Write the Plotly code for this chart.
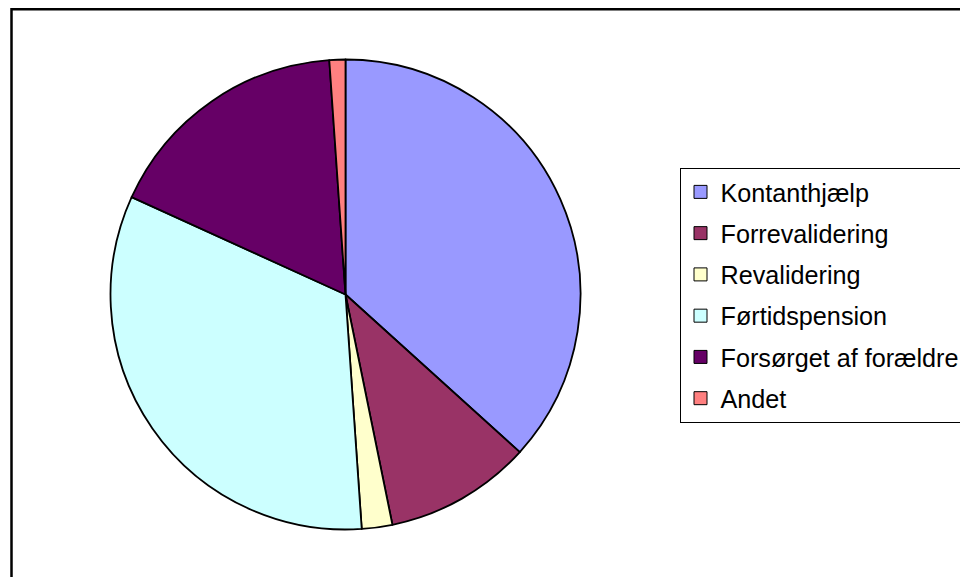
import plotly.graph_objects as go

# Share of people by source of support (per cent)
labels = ["Kontanthjælp", "Forrevalidering", "Revalidering",
          "Førtidspension", "Forsørget af forældre", "Andet"]
shares = [36.7, 10.1, 2.1, 32.9, 17.1, 1.1]
colors = ["#9999FF", "#993366", "#FFFFCC", "#CCFFFF", "#660066", "#FF8080"]

W, H = 960, 577
FONT = "Liberation Sans, Arial, sans-serif"
FS = 25.2

fig = go.Figure()

fig.add_trace(go.Pie(
    labels=labels,
    values=shares,
    sort=False,
    direction="clockwise",
    rotation=0,
    textinfo="none",
    showlegend=False,
    marker=dict(colors=colors, line=dict(color="black", width=1.8)),
    domain=dict(x=[110.5 / W, 580.5 / W],
                y=[1 - 529.5 / H, 1 - 59.5 / H]),
))

# Legend entries: one square swatch per category, each in its own group
for lab, col in zip(labels, colors):
    fig.add_trace(go.Scatter(
        x=[None], y=[None], mode="markers", name=lab,
        legendgroup=lab,
        marker=dict(symbol="square", size=13, color=col,
                    line=dict(color="black", width=1)),
    ))

fig.update_layout(
    width=W, height=H,
    margin=dict(l=0, r=0, t=0, b=0, autoexpand=False),
    paper_bgcolor="white",
    plot_bgcolor="white",
    font=dict(family=FONT, size=FS, color="black"),
    xaxis=dict(visible=False),
    yaxis=dict(visible=False),
    legend=dict(
        x=679.5 / W, y=1 - 168 / H, xanchor="left", yanchor="top",
        bordercolor="black", borderwidth=1, bgcolor="white",
        tracegroupgap=5.5, itemwidth=30,
        font=dict(family=FONT, size=FS, color="black"),
    ),
    shapes=[dict(
        type="rect", xref="paper", yref="paper",
        x0=11.5 / W, x1=1.2, y0=-0.2, y1=1 - 9.2 / H,
        line=dict(color="black", width=2.5),
        fillcolor="rgba(0,0,0,0)", layer="above",
    )],
)

fig.write_html("out.html")
